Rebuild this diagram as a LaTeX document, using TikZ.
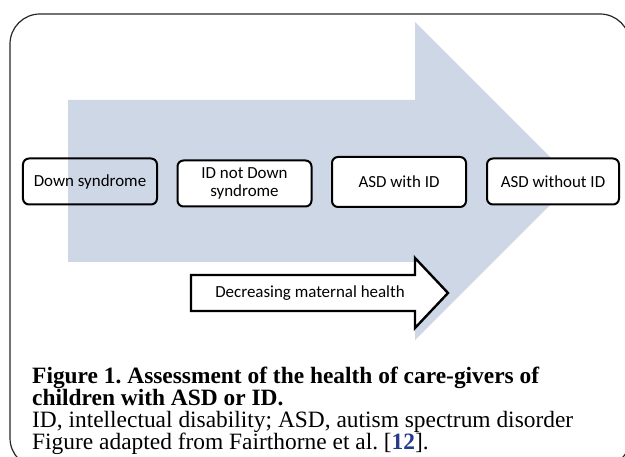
\documentclass[tikz,border=0pt]{standalone}
\usepackage{fontspec}
\setmainfont{Liberation Serif}
\newfontfamily\calfont{Carlito}
\frenchspacing

\definecolor{arrowblue}{RGB}{206,215,230}
\definecolor{refblue}{RGB}{38,58,140}

\begin{document}
\begin{tikzpicture}
[x=1bp,y=-1bp
,frame/.style={draw=black!85,line width=1.2bp,rounded corners=30bp}
,bigarrow/.style={fill=arrowblue}
,bx/.style={draw,line width=2bp,rounded corners=6bp,minimum width=134bp,minimum height=46bp,inner sep=0pt,align=center,font=\calfont\fontsize{17}{18}\selectfont}
,bxw/.style={bx,fill=white}
,decarrow/.style={draw,fill=white,line width=2.4bp}
,captxt/.style={anchor=base west,inner sep=0pt,font=\fontsize{23.5}{24}\selectfont}
,captxtb/.style={captxt,font=\fontsize{23.5}{24}\selectfont\bfseries}]
\useasboundingbox (0,0) rectangle (625,457);
\clip (0,0) rectangle (625,457);
\draw[frame] (10,14) rectangle (630,468);
\fill[bigarrow] (68,100) -- (415,100) -- (415,22) -- (574,181) -- (415,340) -- (415,262) -- (68,262) -- cycle;
\node[bx] (b1) at (90,181.5) {Down syndrome};
\node[bxw] (b2) at (244.5,183.5) {ID not Down\\syndrome};
\node[bxw,minimum height=50bp] (b3) at (399,182) {ASD with ID};
\node[bxw,minimum width=132bp] (b4) at (553,181.5) {ASD without ID};
\draw[decarrow] (191,275) -- (415,275) -- (415,258) -- (448,293) -- (415,328) -- (415,311) -- (191,311) -- cycle;
\node[font=\calfont\fontsize{17}{18}\selectfont] (dec) at (310,293) {Decreasing maternal health};
\node[captxtb] (c1) at (32,383) {Figure 1. Assessment of the health of care-givers of};
\node[captxtb] (c2) at (32,405) {children with ASD or ID.};
\node[captxt] (c3) at (32,427) {ID, intellectual disability; ASD, autism spectrum disorder};
\node[captxt] (c4) at (32,449) {Figure adapted from Fairthorne et al. [\textcolor{refblue}{\textbf{12}}].};
\end{tikzpicture}
\end{document}
